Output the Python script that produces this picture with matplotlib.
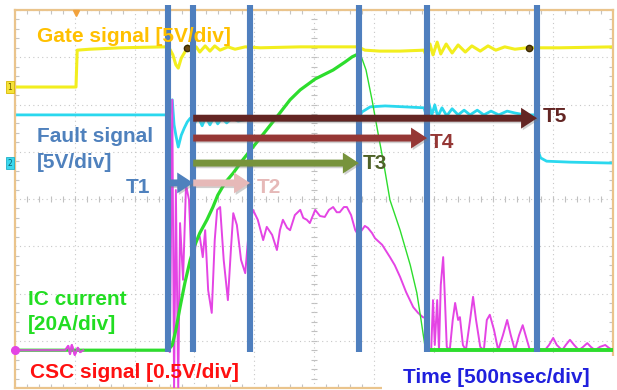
import numpy as np
import matplotlib
matplotlib.use("Agg")
import matplotlib.pyplot as plt
from matplotlib.patches import Rectangle
import matplotlib.patheffects as pe

# Short-circuit protection sequence captured on a 4-channel scope.
# Time axis in screen divisions (500 ns/div), amplitudes in screen divisions.

gate_t = [0, 1.02, 1.04, 1.25, 1.76, 2.51, 2.59, 2.64, 2.69, 2.73, 2.78, 2.84, 2.89,
          2.96, 3.03, 3.09, 3.18, 3.26, 3.34, 3.43, 3.56, 3.68, 3.85, 4.10, 4.77,
          5.52, 5.74, 5.85, 6.10, 6.44, 6.84, 6.89, 6.94, 6.99, 7.06, 7.12, 7.21,
          7.31, 7.41, 7.53, 7.64, 7.78, 7.91, 8.04, 8.19, 8.36, 8.56, 9.11, 10]
gate_v = [2.37, 2.37, 3.15, 3.17, 3.20, 3.22, 3.17, 3.05, 2.84, 2.77, 2.98, 3.11, 3.24,
          3.09, 3.22, 3.11, 3.24, 3.13, 3.24, 3.15, 3.22, 3.17, 3.22, 3.20, 3.22,
          3.22, 3.22, 3.15, 3.13, 3.13, 3.15, 2.98, 3.28, 3.05, 3.32, 3.07, 3.28,
          3.09, 3.26, 3.11, 3.24, 3.13, 3.24, 3.15, 3.22, 3.17, 3.20, 3.20, 3.22]

fault_t = [0, 2.59, 2.63, 2.66, 2.69, 2.73, 2.78, 2.83, 2.88, 2.93, 2.99, 3.06, 3.13,
           3.19, 3.26, 3.33, 3.39, 3.46, 3.54, 3.63, 3.73, 3.93, 4.77, 5.74, 5.80,
           5.94, 6.19, 6.52, 6.84, 6.89, 6.92, 6.97, 7.02, 7.07, 7.14, 7.22, 7.31,
           7.41, 7.51, 7.61, 7.73, 7.84, 7.96, 8.09, 8.23, 8.36, 8.53, 8.71, 8.74,
           8.79, 8.89, 9.28, 10]
fault_v = [1.78, 1.78, 2.10, 1.57, 1.35, 1.10, 1.35, 1.50, 1.63, 1.71, 1.57, 1.74, 1.55,
           1.74, 1.57, 1.74, 1.59, 1.71, 1.61, 1.71, 1.65, 1.69, 1.67, 1.67, 1.84,
           1.95, 1.97, 1.95, 1.93, 1.71, 2.03, 1.78, 1.99, 1.74, 1.93, 1.76, 1.91,
           1.78, 1.88, 1.78, 1.88, 1.78, 1.86, 1.78, 1.86, 1.82, 1.78, 1.78, 1.04,
           0.87, 0.80, 0.78, 0.76]

ic_t = [0, 2.56, 2.63, 2.69, 2.76, 2.84, 2.93, 3.01, 3.09, 3.21, 3.31, 3.39, 3.51,
        3.65, 3.81, 3.98, 4.18, 4.38, 4.60, 4.77, 5.02, 5.32, 5.52, 5.64, 5.74,
        5.80, 5.87, 5.97, 6.07, 6.17, 6.27, 6.44, 6.61, 6.72, 6.79, 6.86, 6.94, 10]
ic_v = [-3.20, -3.20, -3.09, -2.77, -2.29, -1.78, -1.29, -0.97, -0.72, -0.44, -0.17,
        0.08, 0.34, 0.55, 0.83, 1.10, 1.42, 1.74, 2.10, 2.31, 2.54, 2.73, 2.90, 3.01,
        3.07, 2.98, 2.73, 2.10, 1.40, 0.72, -0.02, -0.66, -1.40, -1.99, -2.56, -3.15,
        -3.20, -3.20]

csc_t = [0, 0.84, 0.89, 0.92, 0.95, 1.00, 1.05, 1.09, 1.14, 2.56, 2.59, 2.63, 2.66,
         2.69, 2.73, 2.76, 2.81, 2.86, 2.91, 2.96, 3.03, 3.09, 3.14, 3.18, 3.23, 3.29,
         3.34, 3.38, 3.43, 3.49, 3.56, 3.61, 3.65, 3.71, 3.78, 3.85, 3.91, 3.98, 4.06,
         4.15, 4.21, 4.30, 4.38, 4.43, 4.48, 4.55, 4.60, 4.68, 4.77, 4.82, 4.88, 4.93,
         5.02, 5.10, 5.18, 5.25, 5.32, 5.38, 5.43, 5.50, 5.55, 5.62, 5.69, 5.74, 5.80,
         5.85, 5.90, 5.97, 6.02, 6.14, 6.27, 6.35, 6.44, 6.54, 6.66, 6.74, 6.82, 6.87,
         6.91, 6.96, 6.99, 7.02, 7.06, 7.09, 7.12, 7.16, 7.19, 7.22, 7.27, 7.32, 7.36,
         7.41, 7.44, 7.49, 7.54, 7.61, 7.66, 7.71, 7.78, 7.84, 7.89, 7.94, 8.01, 8.08,
         8.16, 8.23, 8.29, 8.36, 8.43, 8.49, 8.56, 8.61, 8.86, 8.93, 9.00, 9.06, 9.15,
         9.21, 9.28, 9.35, 9.43, 9.50, 9.57, 9.63, 9.70, 9.78, 9.87, 9.93, 10]
csc_v = [-3.20, -3.20, -3.11, -3.28, -3.09, -3.30, -3.15, -3.24, -3.20, -3.20, -3.24,
         2.10, -4.04, 0.19, -4.04, -0.51, -1.71, 0.30, -0.02, -1.57, -0.87, -0.80,
         -1.23, -0.66, -1.93, -2.41, -0.87, -0.23, -0.17, -1.29, -2.14, -1.08, -0.30,
         -0.55, -1.29, -1.57, -0.66, -0.23, -0.44, -0.87, -0.59, -0.76, -1.08, -0.66,
         -0.44, -0.61, -0.66, -0.34, -0.23, -0.40, -0.44, -0.51, -0.23, -0.36, -0.38,
         -0.23, -0.17, -0.28, -0.28, -0.17, -0.17, -0.34, -0.66, -0.76, -0.66, -0.57,
         -0.61, -0.72, -0.83, -0.97, -1.23, -1.40, -1.65, -1.97, -2.29, -2.41, -2.50,
         -2.52, -3.20, -3.20, -2.14, -3.09, -2.14, -3.20, -1.82, -1.23, -2.14, -3.13,
         -3.20, -2.56, -2.20, -2.56, -2.50, -3.09, -3.20, -2.56, -2.07, -2.56, -3.13,
         -3.20, -2.56, -2.45, -2.77, -3.20, -2.88, -2.56, -2.88, -3.20, -2.88, -2.67,
         -2.98, -3.20, -3.20, -3.09, -2.94, -3.09, -3.20, -3.09, -2.98, -3.09, -3.20,
         -3.13, -3.05, -3.13, -3.20, -3.13, -3.09, -3.15, -3.20]

# Channel ground references (divisions)
gate_ref = 2.37
fault_ref = 0.76
csc_ref = -3.20

# Cursor instants T1..T5 boundaries (divisions)
event_t = [2.56, 2.98, 3.93, 5.75, 6.89, 8.73]

# Interval arrows: label, start event, end event
intervals = [("T1", 0, 1), ("T2", 1, 2), ("T3", 1, 3), ("T4", 1, 4), ("T5", 1, 5)]

# ---------------------------------------------------------------- styling
W, H = 617, 390
FONT = "Liberation Sans"
YEL, CYA, GRN, MAG = "#f2ee1e", "#2ad8ee", "#2ddd2d", "#e444e4"
BAR = "#4f7fbe"
arrow_fc = {"T1": "#4f81bd", "T2": "#e6b9b8", "T3": "#77933c", "T4": "#953735", "T5": "#632523"}
label_fc = {"T1": "#4f81bd", "T2": "#e6b9b8", "T3": "#4f6228", "T4": "#953735", "T5": "#632523"}
arrow_y = {"T1": 0.34, "T2": 0.34, "T3": 0.76, "T4": 1.29, "T5": 1.71}
label_off = {"T1": (-13, -3), "T2": (5, -3), "T3": (3, 0), "T4": (2, -3), "T5": (4, 1)}


def fx(px):
    return px / W


def fy(py):
    return 1 - py / H


fig = plt.figure(figsize=(W / 100, H / 100), dpi=100)
fig.patch.set_facecolor("white")
ax = fig.add_axes([fx(15), fy(388), (613 - 15) / W, (388 - 10) / H])
ax.set_xlim(0, 10)
ax.set_ylim(-4, 4)
ax.set_facecolor("white")

# graticule
for s in ax.spines.values():
    s.set_color("#eac48c")
    s.set_linewidth(1.6)
ax.set_xticks(np.arange(0, 11))
ax.set_yticks(np.arange(-4, 5))
ax.set_xticks(np.arange(0, 10.01, 0.2), minor=True)
ax.set_yticks(np.arange(-4, 4.01, 0.2), minor=True)
ax.tick_params(which="both", labelbottom=False, labelleft=False,
               top=True, right=True, direction="in", color="#c4c4c4")
ax.tick_params(which="major", length=0)
ax.tick_params(which="minor", length=3, width=0.8)
ax.grid(True, which="major", color="#c8c8c8", linestyle=(0, (1, 3)), linewidth=0.8)
mx = np.arange(0, 10.01, 0.2)
my = np.arange(-4, 4.01, 0.2)
ax.plot(mx, np.zeros_like(mx), ls="none", marker="|", ms=4, mew=0.8, color="#c0c0c0", zorder=1)
ax.plot(np.full_like(my, 5.0), my, ls="none", marker="_", ms=4, mew=0.8, color="#c0c0c0", zorder=1)

# traces
ax.plot(gate_t, gate_v, color=YEL, lw=2.2, zorder=2, solid_joinstyle="round")
ax.plot(fault_t, fault_v, color=CYA, lw=2.0, zorder=2, solid_joinstyle="round")
ax.plot(csc_t, csc_v, color=MAG, lw=1.4, zorder=3, solid_joinstyle="round")
ic_t_arr, ic_v_arr = np.asarray(ic_t), np.asarray(ic_v)
peak = int(np.argmax(ic_v_arr))
settle = peak + int(np.argmax(ic_v_arr[peak:] <= ic_v_arr[-1]))
ax.plot(ic_t_arr, ic_v_arr, color=GRN, lw=1.0, zorder=4)
ax.plot(ic_t_arr[:peak + 1], ic_v_arr[:peak + 1], color=GRN, lw=2.3, zorder=4,
        solid_joinstyle="round")
ax.plot(ic_t_arr[settle:], ic_v_arr[settle:], color=GRN, lw=2.8, zorder=4)
ax.plot(csc_t[:9], csc_v[:9], color=MAG, lw=1.6, alpha=0.85, zorder=4)

# channel ground markers and cursors
ax.annotate("1", xy=(0, gate_ref), xytext=(-2, 0), textcoords="offset points",
            ha="right", va="center", fontsize=5.5, color="#6a5a00", annotation_clip=False,
            bbox=dict(boxstyle="square,pad=0.2", fc="#f5e23a", ec="#d8b800", lw=0.6))
ax.annotate("2", xy=(0, fault_ref), xytext=(-2, 0), textcoords="offset points",
            ha="right", va="center", fontsize=5.5, color="#106070", annotation_clip=False,
            bbox=dict(boxstyle="square,pad=0.2", fc="#3ad8ee", ec="#20b0c8", lw=0.6))
ax.plot([0], [csc_ref], marker="o", ms=5.5, color=MAG, clip_on=False, zorder=5)
ax.plot([1.02], [3.93], marker="v", ms=5, color="#f2a23c", clip_on=False, zorder=5)
ax.plot([2.88, 8.60], [3.20, 3.20], ls="none", marker="o", ms=4.5, color="#6b4a10",
        mec="#3a2a00", zorder=5)

# cursor bars
ax.vlines(event_t, -3.24, 4.11, colors=BAR, lw=4.4, zorder=6, clip_on=False)

# interval arrows
shadow = [pe.withSimplePatchShadow(offset=(1.2, -1.2), shadow_rgbFace="#777777", alpha=0.35)]
for name, i0, i1 in intervals:
    y = arrow_y[name]
    ax.annotate("", xy=(event_t[i1], y), xytext=(event_t[i0], y),
                arrowprops=dict(arrowstyle="simple,head_length=1.15,head_width=1.5,tail_width=0.5",
                                mutation_scale=10, fc=arrow_fc[name], ec="none",
                                shrinkA=0, shrinkB=0, path_effects=shadow),
                zorder=7)
    if name == "T1":
        ax.annotate(name, xy=(event_t[i0], y), xytext=label_off[name], textcoords="offset points",
                    ha="right", va="center", fontsize=15, fontweight="bold", family=FONT,
                    color=label_fc[name], zorder=8)
    else:
        ax.annotate(name, xy=(event_t[i1], y), xytext=label_off[name], textcoords="offset points",
                    ha="left", va="center", fontsize=15, fontweight="bold", family=FONT,
                    color=label_fc[name], zorder=8)

# channel captions
cap = dict(fontsize=15, fontweight="bold", family=FONT, ha="left", va="baseline", zorder=5)
fig.text(fx(37), fy(42), "Gate signal [5V/div]", color="#ffc000", **cap)
fig.text(fx(37), fy(142), "Fault signal", color="#4f81bd", **cap)
fig.text(fx(37), fy(168), "[5V/div]", color="#4f81bd", **cap)
fig.text(fx(28), fy(305), "IC current", color="#22dd22", **cap)
fig.text(fx(28), fy(330), "[20A/div]", color="#22dd22", **cap)
fig.text(fx(30), fy(378), "CSC signal [0.5V/div]", color="#ff1010", **cap)

fig.add_artist(Rectangle((fx(382), 0), (W - 382) / W, 34 / H, transform=fig.transFigure,
                         fc="white", ec="none", zorder=4))
fig.text(fx(403), fy(383), "Time [500nsec/div]", color="#2020dd", **cap)

fig.savefig("out.png", dpi=100, facecolor="white")
